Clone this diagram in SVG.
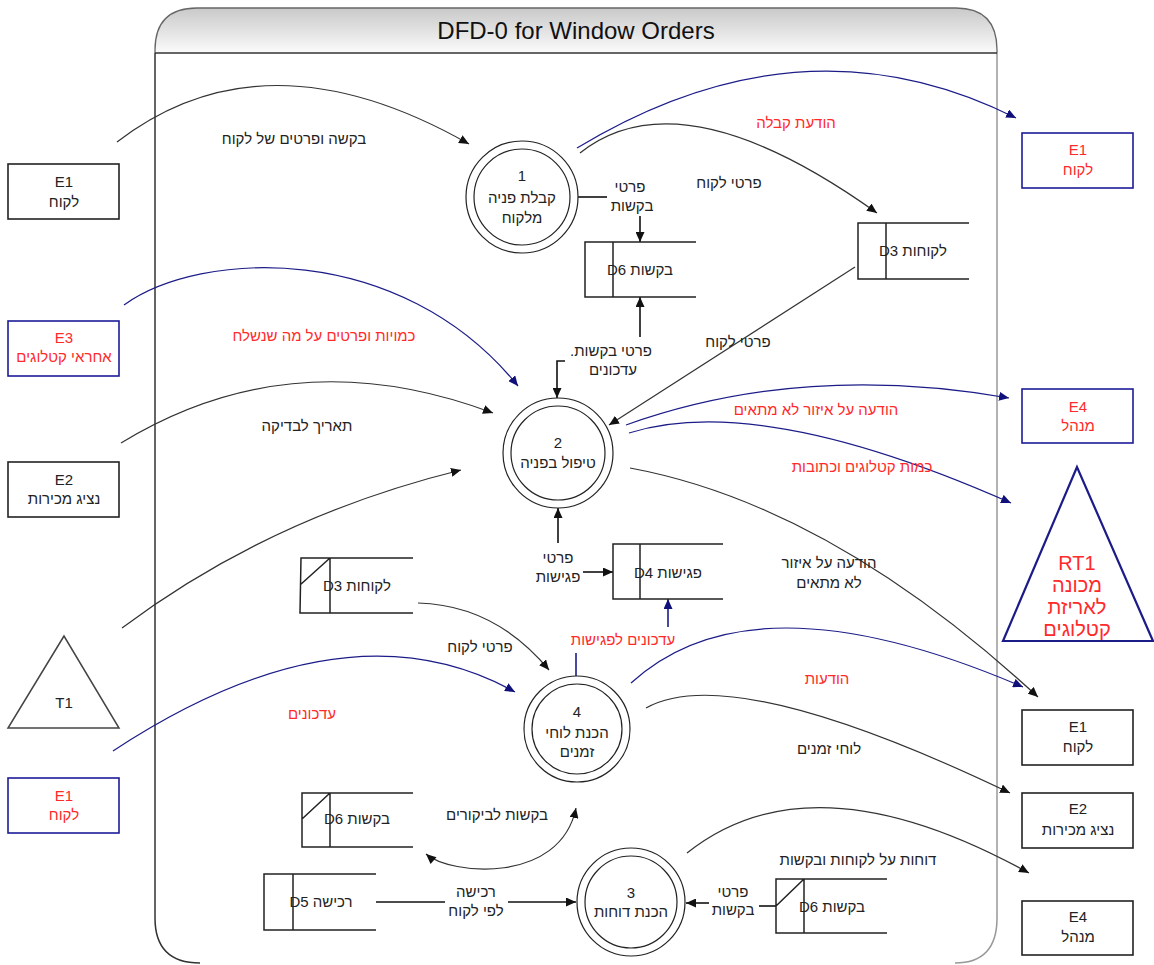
<svg xmlns="http://www.w3.org/2000/svg" width="1154" height="965" viewBox="0 0 1154 965">
<style>
text{font-family:"Liberation Sans",Arial,sans-serif;font-size:15px;fill:#222;text-anchor:middle}
.red{fill:#ff2a2a}
.title{font-size:24px;fill:#111}
.big{font-size:20px}
.ent{fill:#fff;stroke:#222;stroke-width:1.6}
.entb{fill:#fff;stroke:#1c1c99;stroke-width:1.6}
.proc{fill:#fff;stroke:#222;stroke-width:1.2}
.store{fill:none;stroke:#222;stroke-width:1.5}
.fk{fill:none;stroke:#333;stroke-width:1.2}
.fb{fill:none;stroke:#1c1c88;stroke-width:1.2}
.fkt{fill:none;stroke:#111;stroke-width:1.6}
.fbt{fill:none;stroke:#1c1c88;stroke-width:1.6}
</style>
<defs>
<linearGradient id="hdr" x1="0" y1="0" x2="0" y2="1">
<stop offset="0" stop-color="#c9c9c9"/>
<stop offset="1" stop-color="#fbfbfb"/>
</linearGradient>
<marker id="ak" markerUnits="userSpaceOnUse" markerWidth="11" markerHeight="9" refX="10" refY="4.5" orient="auto">
<path d="M0,0 L10,4.5 L0,9 z" fill="#111"/>
</marker>
<marker id="ab" markerUnits="userSpaceOnUse" markerWidth="11" markerHeight="9" refX="10" refY="4.5" orient="auto">
<path d="M0,0 L10,4.5 L0,9 z" fill="#10107a"/>
</marker>
<marker id="aks" markerUnits="userSpaceOnUse" markerWidth="11" markerHeight="9" refX="0" refY="4.5" orient="auto">
<path d="M10,0 L0,4.5 L10,9 z" fill="#111"/>
</marker>
</defs>
<rect width="1154" height="965" fill="#fff"/>

<g id="frame">
<path d="M155,53 V50 Q155,8 197,8 H956 Q997,8 997,50 V53 Z" fill="url(#hdr)"/>
<path d="M155,53 V50 Q155,8 197,8 H956 Q997,8 997,50 V53" fill="none" stroke="#666" stroke-width="1.3"/>
<path d="M155,53 V918 Q155,963 200,963" fill="none" stroke="#333" stroke-width="1.5"/>
<path d="M997,53 V918 Q997,963 955,963" fill="none" stroke="#999" stroke-width="1.5"/>
<line x1="155" y1="53" x2="997" y2="53" stroke="#333" stroke-width="1.5"/>
<text class="title" x="576" y="39">DFD-0 for Window Orders</text>
</g>

<g id="connectors">
<path class="fk" d="M117,142 Q265,28 469,144" marker-end="url(#ak)"/>
<text x="294" y="144">בקשה ופרטים של לקוח</text>
<path class="fb" d="M577,148 Q803,11 1016,118" marker-end="url(#ab)"/>
<path class="fk" d="M580,153 Q681,73 877,213" marker-end="url(#ak)"/>
<text class="red" x="796" y="128">הודעת קבלה</text>
<text x="729" y="188">פרטי לקוח</text>
<line class="fkt" x1="578" y1="197" x2="607" y2="197"/>
<text x="630" y="192">פרטי</text>
<text x="632" y="211">בקשות</text>
<line class="fkt" x1="640" y1="216" x2="640" y2="242" marker-end="url(#ak)"/>
<path class="fb" d="M124,305 C200,250 400,240 518,386" marker-end="url(#ab)"/>
<text class="red" x="324" y="341">כמויות ופרטים על מה שנשלח</text>
<line class="fkt" x1="640" y1="337" x2="640" y2="297" marker-end="url(#ak)"/>
<text x="611" y="356" direction="rtl" style="text-anchor:middle">פרטי בקשות.</text>
<text x="613" y="375">עדכונים</text>
<path class="fkt" d="M565,361 H557 V398" marker-end="url(#ak)"/>
<line class="fk" x1="855" y1="267" x2="609" y2="425" marker-end="url(#ak)"/>
<text x="738" y="347">פרטי לקוח</text>
<path class="fk" d="M121,443 Q293,338 493,413" marker-end="url(#ak)"/>
<text x="307" y="431">תאריך לבדיקה</text>
<path class="fk" d="M122,628 Q270,517 461,470" marker-end="url(#ak)"/>
<path class="fb" d="M626,425 Q802,362 1009,398" marker-end="url(#ab)"/>
<text class="red" x="816" y="415">הודעה על איזור לא מתאים</text>
<path class="fb" d="M629,433 Q760,392 1011,503" marker-end="url(#ab)"/>
<text class="red" x="862" y="472">כמות קטלוגים וכתובות</text>
<path class="fk" d="M630,468 Q830,505 1038,697" marker-end="url(#ak)"/>
<text x="829" y="568">הודעה על איזור</text>
<text x="829" y="588">לא מתאים</text>
<line class="fkt" x1="558" y1="543" x2="558" y2="508" marker-end="url(#ak)"/>
<text x="558" y="563">פרטי</text>
<text x="558" y="582">פגישות</text>
<line class="fkt" x1="583" y1="572" x2="613" y2="572" marker-end="url(#ak)"/>
<line class="fbt" x1="668" y1="627" x2="668" y2="599" marker-end="url(#ab)"/>
<text class="red" x="623" y="645">עדכונים לפגישות</text>
<line class="fbt" x1="576" y1="653" x2="576" y2="676"/>
<path class="fk" d="M418,603 Q495,605 549,670" marker-end="url(#ak)"/>
<text x="480" y="652">פרטי לקוח</text>
<path class="fb" d="M113,751 Q346,598 515,692" marker-end="url(#ab)"/>
<text class="red" x="312" y="719">עדכונים</text>
<path class="fb" d="M631,683 Q753,571 1023,687" marker-end="url(#ab)"/>
<text class="red" x="827" y="684">הודעות</text>
<path class="fk" d="M646,708 Q732,660 1010,793" marker-end="url(#ak)"/>
<text x="829" y="754">לוחי זמנים</text>
<path class="fk" d="M426,854 C450,875 560,885 576,808" marker-start="url(#aks)" marker-end="url(#ak)"/>
<text x="497" y="820">בקשות לביקורים</text>
<path class="fk" d="M687,853 Q812,753 1029,873" marker-end="url(#ak)"/>
<text x="858" y="865">דוחות על לקוחות ובקשות</text>
<line class="fkt" x1="376" y1="902" x2="445" y2="902"/>
<line class="fkt" x1="508" y1="902" x2="576" y2="902" marker-end="url(#ak)"/>
<text x="476" y="897">רכישה</text>
<text x="476" y="916">לפי לקוח</text>
<line class="fkt" x1="776" y1="906" x2="759" y2="906"/>
<text x="733" y="897">פרטי</text>
<text x="733" y="915">בקשות</text>
<line class="fkt" x1="709" y1="903" x2="686" y2="903" marker-end="url(#ak)"/>
</g>

<g id="E1_top_left">
<rect class="ent" x="8" y="164" width="111" height="55"/>
<text x="64" y="187">E1</text>
<text x="64" y="207">לקוח</text>
</g>
<g id="E3_left">
<rect class="entb" x="8" y="321" width="111" height="55"/>
<text class="red" x="64" y="343">E3</text>
<text class="red" x="64" y="362">אחראי קטלוגים</text>
</g>
<g id="E2_left">
<rect class="ent" x="8" y="462" width="111" height="55"/>
<text x="64" y="485">E2</text>
<text x="64" y="504">נציג מכירות</text>
</g>
<g id="T1">
<path d="M64,636 L8,728 L119,728 Z" fill="#fff" stroke="#444" stroke-width="1.5"/>
<text x="64" y="708">T1</text>
</g>
<g id="E1_bottom_left">
<rect class="entb" x="8" y="778" width="111" height="55"/>
<text class="red" x="64" y="801">E1</text>
<text class="red" x="64" y="820">לקוח</text>
</g>
<g id="E1_top_right">
<rect class="entb" x="1022" y="133" width="111" height="55"/>
<text class="red" x="1078" y="155">E1</text>
<text class="red" x="1078" y="175">לקוח</text>
</g>
<g id="E4_right">
<rect class="entb" x="1022" y="389" width="111" height="54"/>
<text class="red" x="1078" y="412">E4</text>
<text class="red" x="1078" y="431">מנהל</text>
</g>
<g id="RT1">
<path d="M1077,467 L1003,641 L1153,641 Z" fill="#fff" stroke="#1c1c88" stroke-width="2.2"/>
<text class="red big" x="1077" y="570">RT1</text>
<text class="red big" x="1077" y="592">מכונה</text>
<text class="red big" x="1077" y="614">לאריזת</text>
<text class="red big" x="1077" y="636">קטלוגים</text>
</g>
<g id="E1_right">
<rect class="ent" x="1022" y="710" width="111" height="55"/>
<text x="1078" y="732">E1</text>
<text x="1078" y="752">לקוח</text>
</g>
<g id="E2_right">
<rect class="ent" x="1022" y="793" width="111" height="55"/>
<text x="1078" y="814">E2</text>
<text x="1078" y="835">נציג מכירות</text>
</g>
<g id="E4_bottom_right">
<rect class="ent" x="1022" y="901" width="111" height="54"/>
<text x="1078" y="922">E4</text>
<text x="1078" y="942">מנהל</text>
</g>

<g id="P1">
<circle class="proc" cx="522" cy="197" r="56"/>
<circle class="proc" cx="522" cy="197" r="48"/>
<text x="522" y="181">1</text>
<text x="522" y="203">קבלת פניה</text>
<text x="522" y="223">מלקוח</text>
</g>
<g id="P2">
<circle class="proc" cx="558" cy="453" r="55"/>
<circle class="proc" cx="558" cy="453" r="47"/>
<text x="558" y="448">2</text>
<text x="558" y="468">טיפול בפניה</text>
</g>
<g id="P4">
<circle class="proc" cx="577" cy="729" r="53"/>
<circle class="proc" cx="577" cy="729" r="45"/>
<text x="577" y="717">4</text>
<text x="577" y="738">הכנת לוחי</text>
<text x="577" y="757">זמנים</text>
</g>
<g id="P3">
<circle class="proc" cx="631" cy="902" r="54"/>
<circle class="proc" cx="631" cy="902" r="46"/>
<text x="631" y="898">3</text>
<text x="631" y="917">הכנת דוחות</text>
</g>

<g id="D6_top">
<path class="store" d="M696,242 H585 V297 H696 M613,242 V297"/>
<text x="640" y="275">D6 בקשות</text>
</g>
<g id="D3_top">
<path class="store" d="M969,223 H858 V279 H969 M886,223 V279"/>
<text x="913" y="256">D3 לקוחות</text>
</g>
<g id="D4">
<path class="store" d="M723,544 H613 V599 H723 M640,544 V599"/>
<text x="668" y="578">D4 פגישות</text>
</g>
<g id="D3_lower">
<path class="store" d="M413,558 H301 L300,613 H413 M330,558 V613 M300,585 L330,558"/>
<text x="357" y="591">D3 לקוחות</text>
</g>
<g id="D6_lower_left">
<path class="store" d="M413,793 H302 V847 H413 M330,793 V847 M302,819 L330,793"/>
<text x="357" y="824">D6 בקשות</text>
</g>
<g id="D5">
<path class="store" d="M376,874 H264 V930 H376 M293,874 V930"/>
<text x="321" y="907">D5 רכישה</text>
</g>
<g id="D6_lower_right">
<path class="store" d="M887,879 H776 V933 H887 M804,879 V933 M776,906 L804,879"/>
<text x="832" y="912">D6 בקשות</text>
</g>
</svg>
